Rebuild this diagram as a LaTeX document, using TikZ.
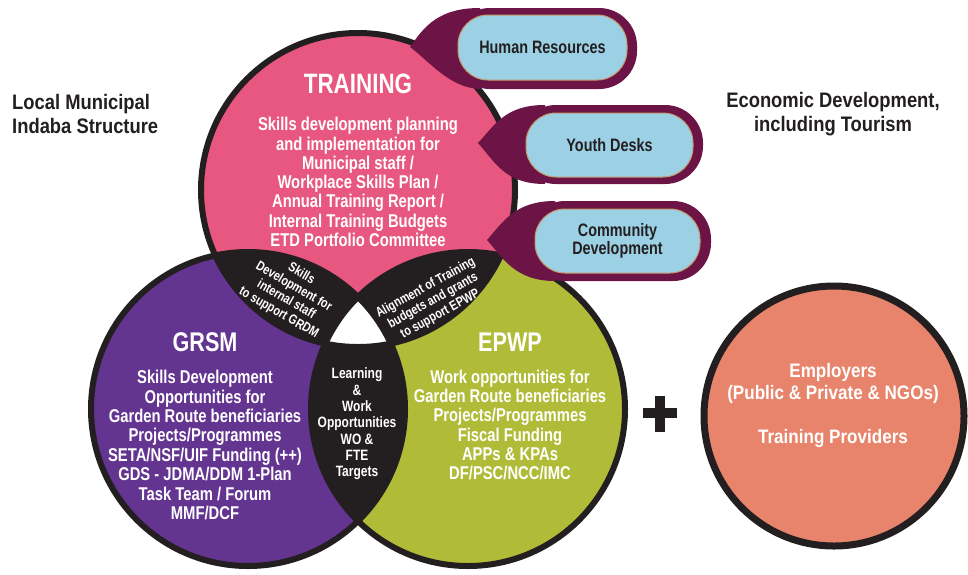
\documentclass[tikz,border=0pt]{standalone}
\usepackage{fontspec}
\setmainfont{Liberation Sans}[FakeStretch=0.8]
\newfontfamily\widesans{Liberation Sans}[FakeStretch=0.875]
\definecolor{inkblack}{HTML}{231F20}
\definecolor{rosefill}{HTML}{E8577F}
\definecolor{grapefill}{HTML}{633490}
\definecolor{olivefill}{HTML}{B0BC37}
\definecolor{wine}{HTML}{6D1446}
\definecolor{skyblue}{HTML}{9CD0E4}
\definecolor{tanline}{HTML}{C49A6C}
\definecolor{salmon}{HTML}{E8846B}
\begin{document}
\begin{tikzpicture}[x=1pt,y=-1pt,
  ringline/.style={draw=inkblack,line width=6pt},
  titletext/.style={text=white,inner sep=0pt,font=\bfseries\fontsize{28}{30}\selectfont},
  bodytext/.style={text=white,inner sep=0pt,align=center,font=\bfseries\fontsize{18.5}{19.3}\selectfont},
  lenstext/.style={text=white,inner sep=0pt,align=center,font=\bfseries\fontsize{13.5}{15}\selectfont},
  bluebox/.style={fill=skyblue,draw=tanline,line width=1pt,rounded corners=30pt,inner sep=0pt,
    text=inkblack,align=center,font=\bfseries\fontsize{18}{18}\selectfont},
  bubble/.style={fill=wine},
  sidetext/.style={text=inkblack,inner sep=0pt,font=\widesans\bfseries\fontsize{21}{24}\selectfont}
]
\useasboundingbox (0,0) rectangle (968,574);

% circle centres
\coordinate (tc) at (358,190);
\coordinate (gc) at (248,409);
\coordinate (ec) at (468,409);

% coloured discs
\fill[rosefill] (tc) circle[radius=157pt];
\fill[grapefill] (gc) circle[radius=157pt];
\fill[olivefill] (ec) circle[radius=157pt];

% pairwise overlaps in black
\begin{scope}
  \clip (tc) circle[radius=157pt];
  \fill[inkblack] (gc) circle[radius=157pt];
  \fill[inkblack] (ec) circle[radius=157pt];
\end{scope}
\begin{scope}
  \clip (gc) circle[radius=157pt];
  \fill[inkblack] (ec) circle[radius=157pt];
\end{scope}
% common core left white
\begin{scope}
  \clip (tc) circle[radius=157pt];
  \clip (gc) circle[radius=157pt];
  \fill[white] (ec) circle[radius=157pt];
\end{scope}

% outlines
\draw[ringline] (tc) circle[radius=157pt];
\draw[ringline] (gc) circle[radius=157pt];
\draw[ringline] (ec) circle[radius=157pt];

% speech bubbles
\fill[bubble,rounded corners=38pt] (452,8) rectangle (637,89);
\fill[bubble] (410,47) .. controls (425,25) and (440,8) .. (480,8) -- (480,89)
  .. controls (450,88) and (430,62) .. (410,47) -- cycle;

\fill[bubble,rounded corners=38pt] (518,105) rectangle (703,184);
\fill[bubble] (478,143) .. controls (495,125) and (505,105) .. (545,105) -- (545,184)
  .. controls (505,184) and (495,162) .. (478,143) -- cycle;

\fill[bubble,rounded corners=38pt] (527,201) rectangle (711,281);
\fill[bubble] (487,240) .. controls (503,222) and (515,201) .. (555,201) -- (555,281)
  .. controls (515,281) and (503,258) .. (487,240) -- cycle;

\node[bluebox,minimum width=169pt,minimum height=65pt] (hr) at (542.5,47.5) {Human Resources};
\node[bluebox,minimum width=167pt,minimum height=64pt] (youth) at (609.5,145) {Youth Desks};
\node[bluebox,minimum width=165pt,minimum height=64pt] (community) at (617.5,241) {Community\\Development};

% circle texts
\node[titletext] (trainingtitle) at (358,84) {TRAINING};
\node[bodytext] (trainingbody) at (358,182) {Skills development planning\\and implementation for\\Municipal staff /\\Workplace Skills Plan /\\Annual Training Report /\\Internal Training Budgets\\ETD Portfolio Committee};

\node[titletext,font=\bfseries\fontsize{27}{29}\selectfont] (grsmtitle) at (205,342) {GRSM};
\node[bodytext,font=\bfseries\fontsize{18.5}{19.4}\selectfont] (grsmbody) at (205,445) {Skills Development\\Opportunities for\\Garden Route beneficiaries\\Projects/Programmes\\SETA/NSF/UIF Funding (++)\\GDS - JDMA/DDM 1-Plan\\Task Team / Forum\\MMF/DCF};

\node[titletext,font=\bfseries\fontsize{27}{29}\selectfont] (epwptitle) at (510,342) {EPWP};
\node[bodytext,font=\bfseries\fontsize{18.5}{19.2}\selectfont] (epwpbody) at (510,425) {Work opportunities for\\Garden Route beneficiaries\\Projects/Programmes\\Fiscal Funding\\APPs \& KPAs\\DF/PSC/NCC/IMC};

% overlap texts
\node[lenstext,font=\bfseries\fontsize{15}{16.3}\selectfont] (core) at (357,424) {Learning\\\&\\Work\\Opportunities\\WO \&\\FTE\\Targets};
\node[lenstext,rotate=-30] (leftlens) at (290,293.5) {Skills\\Development for\\internal staff\\to support GRDM};
\node[lenstext,rotate=29] (rightlens) at (433,301) {Alignment of Training\\budgets and grants\\to support EPWP};

% side labels
\node[sidetext,anchor=west,align=left] (localtitle) at (12,114) {Local Municipal\\Indaba Structure};
\node[sidetext,align=center] (ecotitle) at (833,114) {Economic Development,\\including Tourism};

% plus sign
\fill[inkblack] (643,408) rectangle (677,418);
\fill[inkblack] (655,396) rectangle (665,432);

% employers disc
\node[circle,draw=inkblack,line width=7pt,fill=salmon,minimum size=260pt,inner sep=0pt] (employers) at (834,416) {};
\node[text=white,inner sep=0pt,align=center,font=\widesans\bfseries\fontsize{19.5}{22}\selectfont] (employerstext) at (833,405) {Employers\\(Public \& Private \& NGOs)\\[22pt]Training Providers};
\end{tikzpicture}
\end{document}
